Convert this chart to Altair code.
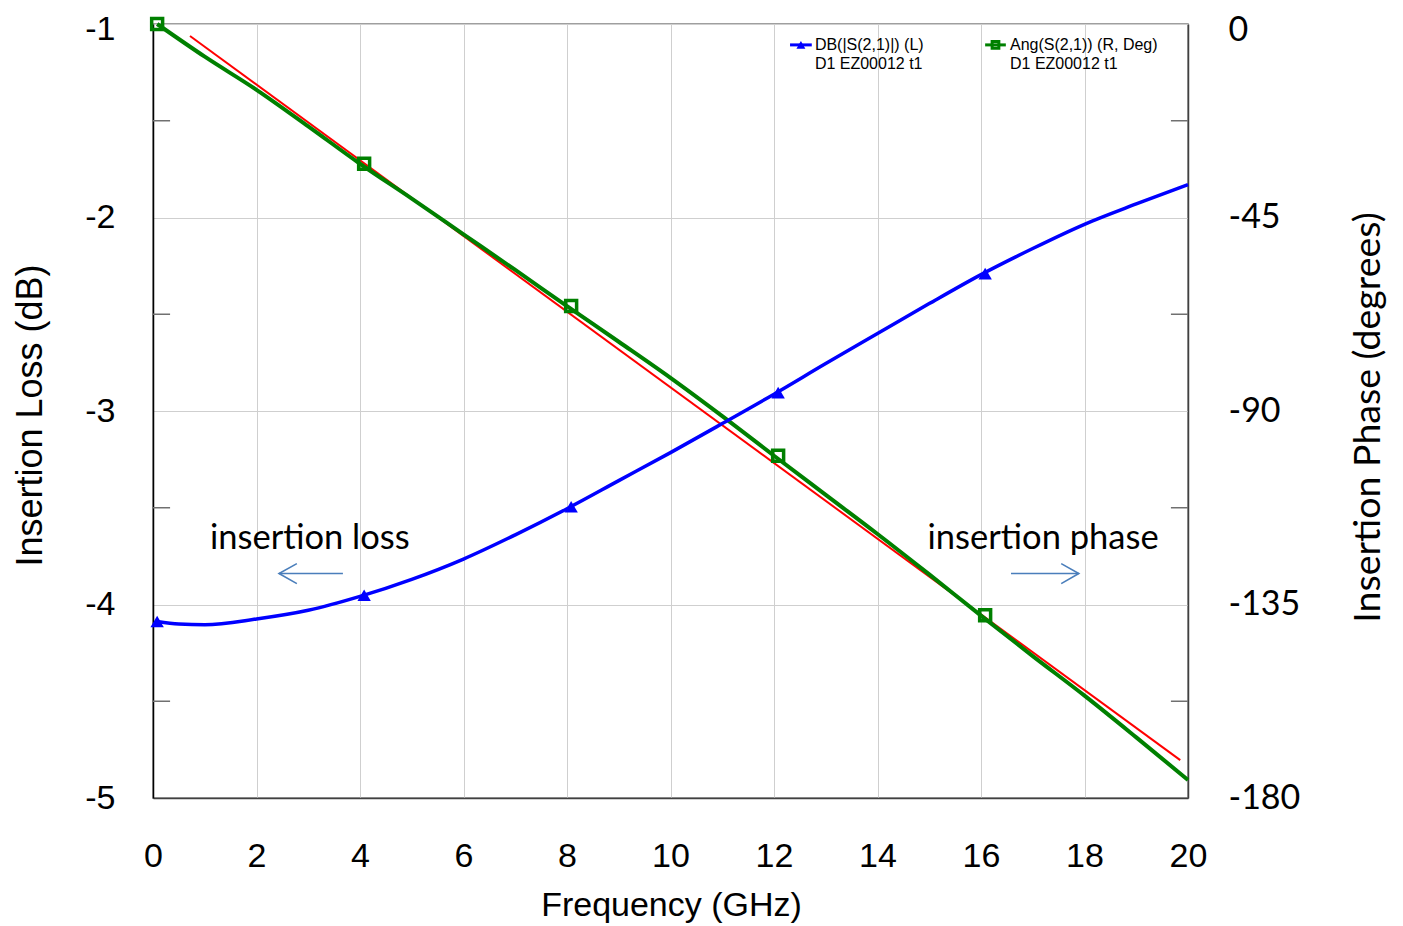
import altair as alt
import pandas as pd

# ---- data ----
freq_il = [0.08, 0.5, 1, 2, 3, 4, 5, 6, 7, 8, 9, 10, 11, 12, 13, 14, 15, 16, 17, 18, 19, 20]
il_db = [-4.088, -4.101, -4.105, -4.075, -4.03, -3.958, -3.87, -3.765, -3.64, -3.505, -3.36,
         -3.215, -3.065, -2.913, -2.755, -2.60, -2.445, -2.295, -2.16, -2.035, -1.93, -1.83]

freq_ph = [0.08, 1, 2, 3, 4, 5, 6, 7, 8, 9, 10, 11, 12, 13, 14, 15, 16, 17, 18, 19, 20]
phase_deg = [0, -7.6, -15.3, -23.8, -32.5, -40.6, -48.9, -57.2, -65.6, -73.9, -82.3,
             -91.2, -100.4, -109.5, -118.6, -128, -137.6, -147, -156.2, -165.9, -175.8]

marker_freq = [0.08, 4.08, 8.08, 12.08, 16.08]
il_marker = [-4.088, -3.952, -3.495, -2.905, -2.29]
ph_marker = [0, -32.5, -65.6, -100.4, -137.5]

fit_freq = [0.715, 19.85]
fit_deg = [-2.78, -171.2]

x_ticks = [0, 2, 4, 6, 8, 10, 12, 14, 16, 18, 20]
il_ticks = [-5, -4, -3, -2, -1]
ph_ticks = [-180, -135, -90, -45, 0]
minor_il = [-1.5, -2.5, -3.5, -4.5]

legend_labels_1 = ["DB(|S(2,1)|) (L)", "D1 EZ00012 t1"]
legend_labels_2 = ["Ang(S(2,1)) (R, Deg)", "D1 EZ00012 t1"]

BLUE = "#0000ff"
GREEN = "#008000"
RED = "#ff0000"
ARROW = "#4a7ebb"
ARIAL = "Liberation Sans"
CAL = "Lato"

PLOT_H = 774

il_df = pd.DataFrame({"f": freq_il, "v": il_db})
ph_df = pd.DataFrame({"f": freq_ph, "v": phase_deg})
mk_il = pd.DataFrame({"f": marker_freq, "v": il_marker})
mk_ph = pd.DataFrame({"f": marker_freq, "v": ph_marker})
fit_df = pd.DataFrame({"f": fit_freq, "v": fit_deg})

xscale = alt.Scale(domain=[0, 20], nice=False, zero=False)
il_scale = alt.Scale(domain=[-5, -1], nice=False, zero=False)
ph_scale = alt.Scale(domain=[-180, 0], nice=False, zero=False)

minus_expr = "datum.value < 0 ? '-' + abs(datum.value) : '' + datum.value"

x_axis = alt.Axis(values=x_ticks, labelFont=ARIAL, labelFontSize=34, labelColor="black",
                  labelPadding=41, tickSize=0, domainColor="#404040", domainWidth=1.5,
                  grid=True, gridColor="#cfcfcf", gridWidth=1,
                  title="Frequency (GHz)", titleFont=ARIAL, titleFontSize=34,
                  titleFontWeight="normal", titleColor="black",
                  titleX=518, titleY=107, titleBaseline="middle", labelFlush=False)

il_axis = alt.Axis(values=il_ticks, labelExpr=minus_expr, labelFont=ARIAL, labelFontSize=34,
                   labelOffset={"condition": {"test": "datum.value == -1", "value": 5},
                                "value": 0},
                   labelColor="black", labelPadding=38, tickSize=0, domainColor="black",
                   domainWidth=1.5, grid=True, gridColor="#cfcfcf", gridWidth=1,
                   title="Insertion Loss (dB)", titleFont=ARIAL, titleFontSize=36,
                   titleFontWeight="normal", titleColor="black", titleAngle=270,
                   titleX=-123, titleY=391, titleBaseline="middle", labelFlush=False)

ph_axis = alt.Axis(values=ph_ticks, labelExpr=minus_expr, orient="right", labelFont=CAL,
                   labelFontSize=34, labelColor="black", labelPadding=40, tickSize=0,
                   labelOffset={"condition": {"test": "datum.value == 0", "value": 6},
                                "value": 0},
                   domainColor="#404040", domainWidth=1.5, grid=False,
                   title="Insertion Phase (degrees)", titleFont=CAL, titleFontSize=37.5,
                   titleFontWeight="normal", titleColor="black", titleAngle=270,
                   titleX=180, titleY=393, titleBaseline="middle", labelFlush=False)

X = alt.X("f:Q", scale=xscale, axis=x_axis)
YL = alt.Y("v:Q", scale=il_scale, axis=il_axis)
YR = alt.Y("v:Q", scale=ph_scale, axis=ph_axis)
YB = alt.Y("v:Q", scale=il_scale, axis=None)

# ---- left-axis group: axis, minor ticks, annotations, legend ----
minor_df = pd.DataFrame({
    "v": minor_il * 2,
    "f": [0.0] * 4 + [19.67] * 4,
    "f2": [0.33] * 4 + [20.0] * 4,
})
minor_layer = alt.Chart(minor_df).mark_rule(color="#707070", strokeWidth=1.5).encode(
    x=X, x2="f2:Q", y=YL)

ann_df = pd.DataFrame({"f": [3.03, 17.2], "v": [-3.66, -3.66],
                       "t": ["insertion loss", "insertion phase"]})
ann_layer = alt.Chart(ann_df).mark_text(font=CAL, fontSize=34.5, color="black",
                                        baseline="middle", align="center").encode(
    x=X, y=YL, text="t:N")

arrow_df = pd.DataFrame({
    "f": [3.67, 2.435, 2.78, 2.435, 2.78, 2.435,
          16.58, 17.89, 17.55, 17.89, 17.55, 17.89],
    "v": [-3.840, -3.840, -3.789, -3.840, -3.892, -3.840,
          -3.840, -3.840, -3.789, -3.840, -3.892, -3.840],
    "o": list(range(12)),
    "g": ["a"] * 2 + ["b"] * 4 + ["c"] * 2 + ["d"] * 4,
})
arrow_layer = alt.Chart(arrow_df).mark_line(color=ARROW, strokeWidth=1.6).encode(
    x=X, y=YL, order="o:Q", detail="g:N")

leg_line_df = pd.DataFrame({"f": [12.31, 12.73, 16.08, 16.48],
                            "v": [-1.108] * 4, "g": ["b", "b", "g", "g"],
                            "c": [BLUE, BLUE, GREEN, GREEN]})
leg_line = alt.Chart(leg_line_df).mark_line(strokeWidth=3).encode(
    x=X, y=YL, detail="g:N", color=alt.Color("c:N", scale=None))
leg_tri = alt.Chart(pd.DataFrame({"f": [12.52], "v": [-1.108]})).mark_point(
    shape="triangle-up", filled=True, size=80, color=BLUE, opacity=1).encode(x=X, y=YL)
leg_sq = alt.Chart(pd.DataFrame({"f": [16.28], "v": [-1.108]})).mark_point(
    shape="square", filled=False, size=45, color=GREEN, strokeWidth=3, opacity=1).encode(
    x=X, y=YL)
leg_txt_df = pd.DataFrame({
    "f": [12.79, 12.79, 16.56, 16.56],
    "v": [-1.108, -1.206, -1.108, -1.206],
    "t": legend_labels_1 + legend_labels_2,
})
leg_txt = alt.Chart(leg_txt_df).mark_text(font=ARIAL, fontSize=16, color="black",
                                          align="left", baseline="middle").encode(
    x=X, y=YL, text="t:N")

left_group = alt.layer(minor_layer, ann_layer, arrow_layer,
                       leg_line, leg_tri, leg_sq, leg_txt)

# ---- right-axis group: phase + linear fit ----
red_layer = alt.Chart(fit_df).mark_line(color=RED, strokeWidth=2).encode(x=X, y=YR)
green_layer = alt.Chart(ph_df).mark_line(color=GREEN, strokeWidth=4,
                                         interpolate="monotone").encode(x=X, y=YR)
green_mk = alt.Chart(mk_ph).mark_point(shape="square", filled=False, size=120, color=GREEN,
                                       strokeWidth=3.5, opacity=1).encode(x=X, y=YR)
right_group = alt.layer(red_layer, green_layer, green_mk)

# ---- insertion loss on top ----
blue_layer = alt.Chart(il_df).mark_line(color=BLUE, strokeWidth=3.5,
                                        interpolate="monotone").encode(x=X, y=YB)
blue_mk = alt.Chart(mk_il).mark_point(shape="triangle-up", filled=True, size=180,
                                      color=BLUE, opacity=1).encode(x=X, y=YB)
blue_group = alt.layer(blue_layer, blue_mk)

chart = alt.layer(left_group, right_group, blue_group).resolve_scale(
    y="independent"
).properties(
    width=1035, height=PLOT_H,
    autosize=alt.AutoSizeParams(type="none"),
    padding={"left": 145, "top": 16, "right": 200, "bottom": 125},
    background="white",
).configure_view(stroke="#808080", strokeWidth=1.5)

chart.save("out.html", embed_options={"renderer": "svg", "actions": False})
